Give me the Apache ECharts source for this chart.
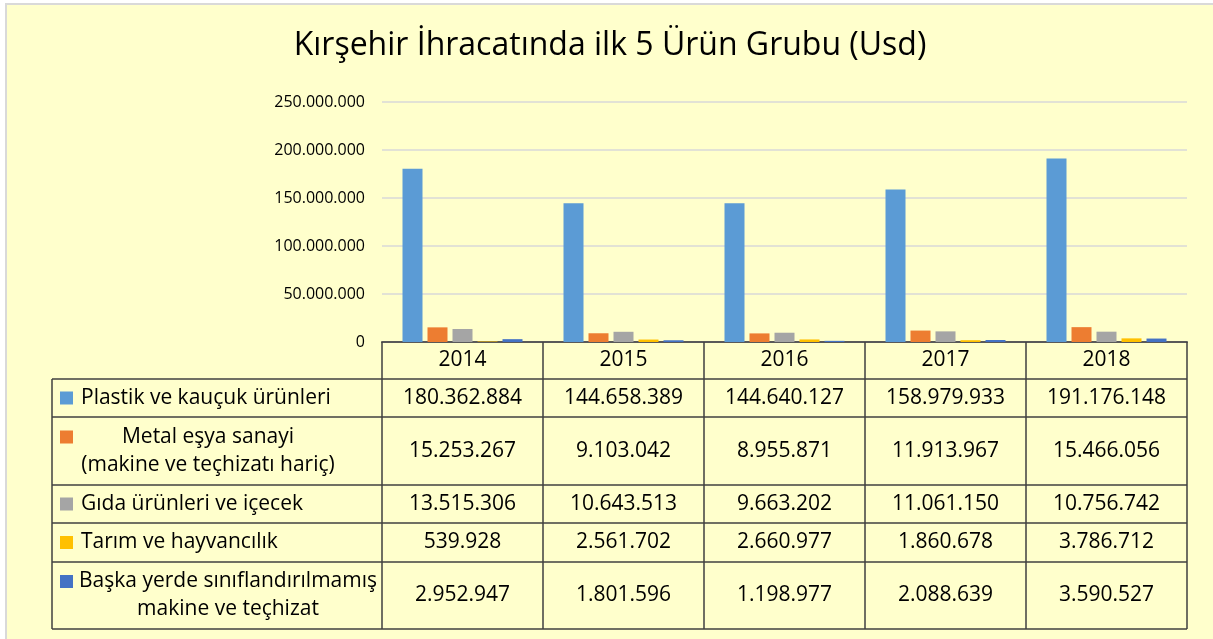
<!DOCTYPE html>
<html>
<head>
<meta charset="utf-8">
<script src="https://cdn.jsdelivr.net/npm/echarts@6/dist/echarts.min.js"></script>
<style>
  html, body { margin: 0; padding: 0; background: #fff; }
  #chartWrapper { width: 1213px; height: 639px; }
</style>
</head>
<body>
<div id="chartWrapper"></div>
<script>
var years = ['2014', '2015', '2016', '2017', '2018'];

// values per product group (Usd)
var plastik = [180362884, 144658389, 144640127, 158979933, 191176148];
var metal = [15253267, 9103042, 8955871, 11913967, 15466056];
var gida = [13515306, 10643513, 9663202, 11061150, 10756742];
var tarim = [539928, 2561702, 2660977, 1860678, 3786712];
var baska = [2952947, 1801596, 1198977, 2088639, 3590527];

var groupNames = [
    'Plastik ve kauçuk ürünleri',
    'Metal eşya sanayi\n(makine ve teçhizatı hariç)',
    'Gıda ürünleri ve içecek',
    'Tarım ve hayvancılık',
    'Başka yerde sınıflandırılmamış\nmakine ve teçhizat'
];
var groupValues = [plastik, metal, gida, tarim, baska];
var colors = ['#5B9BD5', '#ED7D31', '#A5A5A5', '#FFC000', '#4472C4'];

var yMax = 250000000;
var yStep = 50000000;

var FONT = '"Open Sans", "DejaVu Sans", sans-serif';

function fmt(v) {
    return String(v).replace(/\B(?=(\d{3})+(?!\d))/g, '.');
}

var chart = echarts.init(document.getElementById('chartWrapper'));

// table layout
var tableLeft = 52, tableRight = 1187, headerBottom = 379;
var rowHeights = [38, 68, 38, 39, 67];
var tableBottom = headerBottom + rowHeights.reduce(function (a, b) { return a + b; }, 0);

var series = groupNames.map(function (name, i) {
    return {
        name: name,
        type: 'bar',
        barWidth: 20,
        barGap: '25%',
        itemStyle: { color: colors[i] },
        data: groupValues[i]
    };
});

chart.setOption({
    backgroundColor: '#FFFFCC',
    animation: false,
    textStyle: { fontFamily: FONT },
    grid: { left: 382, top: 102, width: 805, height: 240, containLabel: false },
    xAxis: {
        type: 'category',
        data: years,
        axisLine: { lineStyle: { color: '#595959', width: 2 } },
        axisTick: { show: true, length: tableBottom - 342, lineStyle: { color: '#404040', width: 1.5 } },
        axisLabel: { color: '#000', fontSize: 21, margin: 8, fontFamily: FONT }
    },
    yAxis: {
        type: 'value',
        min: 0,
        max: yMax,
        interval: yStep,
        axisLine: { show: false },
        axisTick: { show: false },
        splitLine: { lineStyle: { color: '#D9D9D9', width: 1.5 } },
        axisLabel: {
            color: '#000',
            fontSize: 16,
            margin: 17,
            fontFamily: FONT,
            formatter: function (v) { return fmt(v); }
        }
    },
    series: series
});

// build the data table under the axis
var g = [
    { type: 'rect', shape: { x: 0, y: 0, width: 1213, height: 3 }, style: { fill: '#fff' }, silent: true },
    { type: 'rect', shape: { x: 0, y: 0, width: 5, height: 639 }, style: { fill: '#fff' }, silent: true },
    { type: 'rect', shape: { x: 5, y: 3, width: 1208, height: 2 }, style: { fill: '#D9D9D9' }, silent: true },
    { type: 'rect', shape: { x: 5, y: 3, width: 2, height: 636 }, style: { fill: '#D9D9D9' }, silent: true },
    {
        type: 'text', x: 610, y: 46,
        style: { text: 'Kırşehir İhracatında ilk 5 Ürün Grubu (Usd)', font: '32px ' + FONT, fill: '#000', align: 'center', verticalAlign: 'middle' }
    }
];

var lineStyle = { stroke: '#404040', lineWidth: 1.5 };
g.push({ type: 'line', shape: { x1: tableLeft, y1: headerBottom, x2: tableLeft, y2: tableBottom }, style: lineStyle });

var y = headerBottom;
g.push({ type: 'line', shape: { x1: tableLeft, y1: y, x2: tableRight, y2: y }, style: lineStyle });
rowHeights.forEach(function (h, i) {
    var cy = y + h / 2;
    var lines = groupNames[i].split('\n');
    var firstLineY = cy - (lines.length - 1) * 14;
    g.push({ type: 'rect', shape: { x: 60, y: firstLineY - 6.5, width: 13, height: 13 }, style: { fill: colors[i] } });
    if (lines.length === 1) {
        g.push({ type: 'text', x: 81, y: cy, style: { text: lines[0], font: '21px ' + FONT, fill: '#000', align: 'left', verticalAlign: 'middle' } });
    } else {
        lines.forEach(function (t, k) {
            g.push({ type: 'text', x: i === 1 ? 208 : 228, y: firstLineY + k * 28, style: { text: t, font: '21px ' + FONT, fill: '#000', align: 'center', verticalAlign: 'middle' } });
        });
    }
    years.forEach(function (yr, j) {
        var px = chart.convertToPixel({ xAxisIndex: 0 }, yr);
        g.push({ type: 'text', x: px, y: cy, style: { text: fmt(groupValues[i][j]), font: '21px ' + FONT, fill: '#000', align: 'center', verticalAlign: 'middle' } });
    });
    y += h;
    g.push({ type: 'line', shape: { x1: tableLeft, y1: y, x2: tableRight, y2: y }, style: lineStyle });
});

chart.setOption({ graphic: g });
</script>
</body>
</html>
